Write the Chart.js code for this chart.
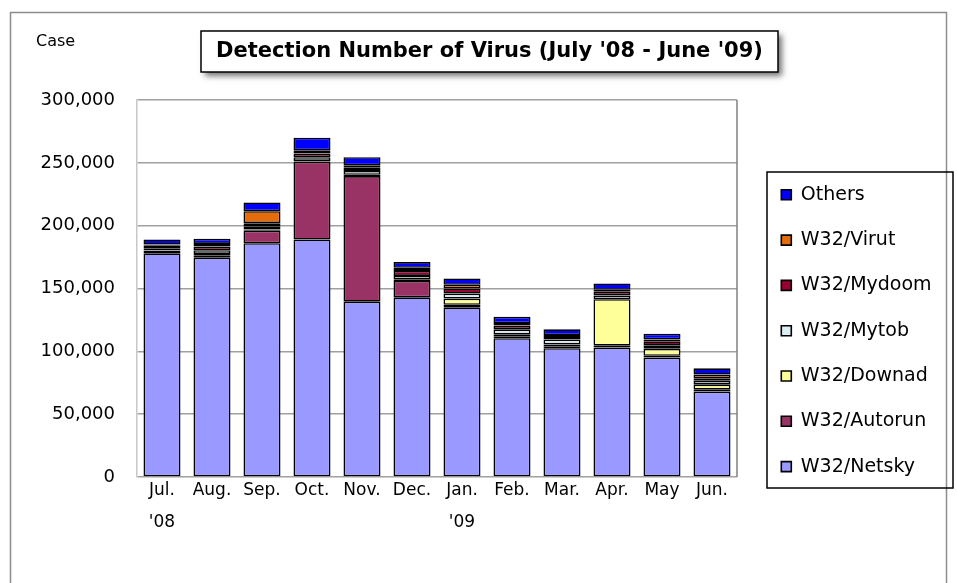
<!DOCTYPE html>
<html lang="en">
<head>
  <meta charset="UTF-8" />
  <script src="https://cdn.jsdelivr.net/npm/chart.js"></script>
  <title>Detection Number of Virus</title>
  <style>
    body { margin: 0; background: #fff; }
  </style>
</head>
<body>
  <canvas id="grafico" width="957" height="583"></canvas>
  <script>
    // datos (casos por mes)
    const meses = [["Jul.", "'08"], "Aug.", "Sep.", "Oct.", "Nov.", "Dec.", ["Jan.", "'09"], "Feb.", "Mar.", "Apr.", "May", "Jun."];
    const netsky  = [178000, 174500, 186000, 189000, 139500, 143000, 135000, 110500, 102500, 103000, 95000, 68000];
    const autorun = [2000, 2000, 10000, 62000, 100000, 13000, 2000, 1500, 1500, 1500, 1500, 1500];
    const downad  = [500, 1000, 1000, 500, 1000, 1000, 5000, 1500, 1500, 37000, 5500, 4000];
    const mytob   = [1500, 3000, 2500, 3000, 3000, 3000, 4000, 4000, 4000, 3000, 2500, 3000];
    const mydoom  = [2000, 3000, 2500, 3000, 2500, 4000, 4000, 3000, 2000, 3000, 3500, 2000];
    const virut   = [1000, 2000, 9500, 2500, 2000, 2500, 3000, 2000, 1500, 1500, 1500, 3000];
    const otros   = [4000, 4000, 7000, 10000, 6500, 4500, 5000, 5000, 4500, 5000, 4500, 5000];
    const valoresEjeY = [0, 50000, 100000, 150000, 200000, 250000, 300000];
    const titulo = "Detection Number of Virus (July '08 - June '09)";

    const fuente = "'DejaVu Sans', sans-serif";

    function serie(label, data, color) {
      return {
        label: label,
        data: data,
        backgroundColor: color,
        borderColor: '#000',
        borderWidth: 1.6,
        borderSkipped: false,
        categoryPercentage: 1,
        barPercentage: 0.74
      };
    }

    // marco, titulo, "Case" y caja de la leyenda
    const decoracion = {
      id: 'decoracion',
      beforeDraw(chart) {
        const lg = chart.legend;
        lg.left = 755; lg.right = 953; lg.top = 159; lg.bottom = 583;
        const ctx = chart.ctx;
        ctx.save();
        ctx.strokeStyle = '#8c8c8c';
        ctx.lineWidth = 1.5;
        ctx.strokeRect(10.5, 12.5, 936, 600);
        ctx.restore();
      },
      afterDraw(chart) {
        const ctx = chart.ctx;
        const area = chart.chartArea;
        ctx.save();
        // borde derecho del area
        ctx.strokeStyle = '#808080';
        ctx.lineWidth = 1.5;
        ctx.beginPath();
        ctx.moveTo(area.right, area.top);
        ctx.lineTo(area.right, area.bottom);
        ctx.stroke();
        // caja leyenda
        ctx.strokeStyle = '#000';
        ctx.lineWidth = 1.5;
        ctx.strokeRect(767, 172, 186, 316);
        // caja del titulo con sombra
        ctx.shadowColor = 'rgba(0,0,0,0.55)';
        ctx.shadowBlur = 6;
        ctx.shadowOffsetX = 4;
        ctx.shadowOffsetY = 4;
        ctx.fillStyle = '#fff';
        ctx.fillRect(201, 31, 577, 41);
        ctx.shadowColor = 'transparent';
        ctx.strokeRect(201, 31, 577, 41);
        ctx.fillStyle = '#000';
        ctx.textAlign = 'center';
        ctx.textBaseline = 'middle';
        ctx.font = "bold 21px " + fuente;
        ctx.fillText(titulo, 489.5, 52);
        ctx.textAlign = 'left';
        ctx.font = "16px " + fuente;
        ctx.fillText("Case", 36, 42);
        ctx.restore();
      }
    };

    const ctx = document.getElementById("grafico").getContext("2d");
    new Chart(ctx, {
      type: "bar",
      data: {
        labels: meses,
        datasets: [
          serie('W32/Netsky', netsky, '#9999FF'),
          serie('W32/Autorun', autorun, '#993366'),
          serie('W32/Downad', downad, '#FFFF99'),
          serie('W32/Mytob', mytob, '#DAEEF3'),
          serie('W32/Mydoom', mydoom, '#990033'),
          serie('W32/Virut', virut, '#E46C0A'),
          serie('Others', otros, '#0000FF')
        ]
      },
      options: {
        responsive: false,
        animation: false,
        layout: { padding: { left: 0, top: 100, right: 220, bottom: 0 } },
        plugins: {
          title: { display: false },
          tooltip: { enabled: false },
          legend: {
            position: 'chartArea',
            align: 'start',
            reverse: true,
            labels: {
              boxWidth: 10,
              boxHeight: 10,
              padding: 26.3,
              color: '#000',
              font: { family: fuente, size: 19 }
            }
          }
        },
        scales: {
          x: {
            stacked: true,
            grid: { display: false, drawTicks: false },
            border: { display: false },
            ticks: {
              color: '#000',
              padding: -2,
              maxRotation: 0,
              autoSkip: false,
              font: { family: fuente, size: 17, lineHeight: 1.85 }
            },
            afterFit(scale) { scale.height = 106; }
          },
          y: {
            stacked: true,
            min: 0,
            max: 300000,
            afterBuildTicks(scale) { scale.ticks = valoresEjeY.map(v => ({ value: v })); },
            grid: { color: '#a0a0a0', lineWidth: 1.5, drawTicks: false },
            border: { color: '#c8c8c8', width: 1.5 },
            ticks: {
              color: '#000',
              padding: 22,
              font: { family: fuente, size: 18 },
              callback: v => v.toLocaleString('en-US')
            },
            afterFit(scale) { scale.width = 137; }
          }
        }
      },
      plugins: [decoracion]
    });
  </script>
</body>
</html>
